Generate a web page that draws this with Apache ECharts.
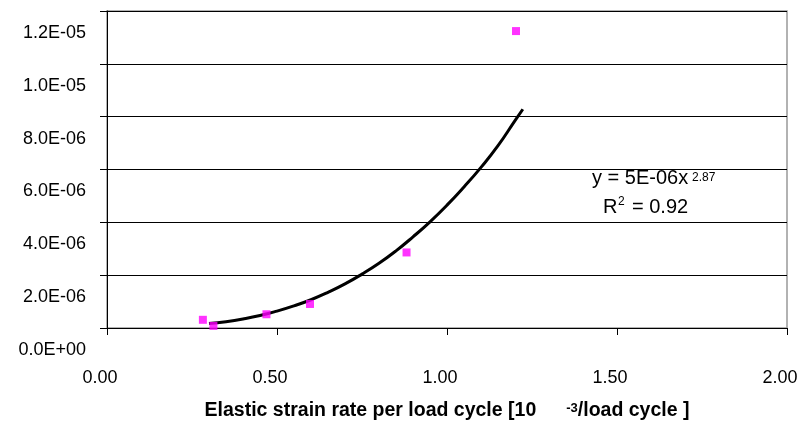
<!DOCTYPE html>
<html>
<head>
<meta charset="utf-8">
<script src="https://cdn.jsdelivr.net/npm/echarts@6/dist/echarts.min.js"></script>
<style>html,body{margin:0;padding:0;background:#fff}#c{width:801px;height:429px}</style>
</head>
<body>
<div id="c"></div>
<script>
// Measured data points (x: elastic strain rate [1e-3/load cycle], y value)
var pointX = [0.282, 0.313, 0.469, 0.597, 0.881, 1.203];
var pointY = [0.31e-6, 0.08e-6, 0.52e-6, 0.91e-6, 2.86e-6, 11.24e-6];

// Power trendline
var trendX = [0.30, 0.35, 0.40, 0.45, 0.50, 0.55, 0.60, 0.65, 0.70, 0.75, 0.80, 0.85, 0.90, 0.95, 1.00, 1.05, 1.10, 1.15, 1.20, 1.223];
var trendY = [0.17e-6, 0.24e-6, 0.34e-6, 0.47e-6, 0.64e-6, 0.84e-6, 1.07e-6, 1.35e-6, 1.67e-6, 2.04e-6, 2.45e-6, 2.92e-6, 3.45e-6, 4.02e-6, 4.65e-6, 5.34e-6, 6.08e-6, 6.90e-6, 7.85e-6, 8.28e-6];

var xTickLabels = ['0.00', '0.50', '1.00', '1.50', '2.00'];
var yTickLabels = ['0.0E+00', '2.0E-06', '4.0E-06', '6.0E-06', '8.0E-06', '1.0E-05', '1.2E-05'];

var FONT = '"Liberation Sans", Arial, sans-serif';
var chart = echarts.init(document.getElementById('c'), null, {renderer: 'canvas'});

function zip(a, b) { return a.map(function (v, i) { return [v, b[i]]; }); }

chart.setOption({
  animation: false,
  backgroundColor: '#ffffff',
  grid: {left: 107, right: 14, top: 11, bottom: 101, show: true, borderColor: '#999999', borderWidth: 1.5,
    containLabel: false, outerBoundsMode: 'none'},
  xAxis: {
    type: 'value', min: 0, max: 2, interval: 0.5,
    axisLine: {show: true, onZero: false, lineStyle: {color: '#000', width: 1}},
    axisTick: {show: true, inside: false, length: 7, lineStyle: {color: '#000'}},
    splitLine: {show: false},
    axisLabel: {
      color: '#000', fontFamily: FONT, fontSize: 18, margin: 41,
      padding: [0, 14, 0, 0], showMinLabel: true, showMaxLabel: true, hideOverlap: false,
      formatter: function (v) { return xTickLabels[Math.round(v / 0.5)]; }
    },
    name: '{b|Elastic strain rate per load cycle [10}{s|-3}{b|/load cycle ]}',
    nameLocation: 'middle', nameGap: 71,
    nameTextStyle: {
      rich: {
        b: {fontFamily: FONT, fontSize: 19.5, fontWeight: 'bold', color: '#000', lineHeight: 24},
        s: {fontFamily: FONT, fontSize: 13, fontWeight: 'bold', color: '#000', lineHeight: 24, padding: [0, 0, 6, 30]}
      }
    }
  },
  yAxis: {
    type: 'value', min: 0, max: 1.2e-5, interval: 2e-6,
    axisLine: {show: true, onZero: false, lineStyle: {color: '#000', width: 1}},
    axisTick: {show: true, inside: false, length: 7, lineStyle: {color: '#000'}},
    splitLine: {show: true, lineStyle: {color: '#000', width: 1}},
    axisLabel: {
      color: '#000', fontFamily: FONT, fontSize: 18, margin: 21, lineHeight: 44, verticalAlign: 'top',
      showMinLabel: true, showMaxLabel: true, hideOverlap: false,
      formatter: function (v) { return yTickLabels[Math.round(v / 2e-6)]; }
    }
  },
  series: [
    {
      type: 'line', data: zip(trendX, trendY), smooth: true, showSymbol: false,
      lineStyle: {color: '#000', width: 3}, z: 3
    },
    {
      type: 'scatter', data: zip(pointX, pointY), symbol: 'rect', symbolSize: 8,
      itemStyle: {color: '#FF00FF'}, z: 4
    }
  ],
  graphic: [
    {type: 'text', left: 592, top: 168,
      style: {text: 'y = 5E-06x', fontFamily: FONT, fontSize: 20, fill: '#000'}},
    {type: 'text', left: 692, top: 172,
      style: {text: '2.87', fontFamily: FONT, fontSize: 12, fill: '#000'}},
    {type: 'text', left: 603, top: 197,
      style: {text: 'R', fontFamily: FONT, fontSize: 20, fill: '#000'}},
    {type: 'text', left: 618, top: 196,
      style: {text: '2', fontFamily: FONT, fontSize: 12, fill: '#000'}},
    {type: 'text', left: 632, top: 197,
      style: {text: '= 0.92', fontFamily: FONT, fontSize: 20, fill: '#000'}}
  ]
});
</script>
</body>
</html>
